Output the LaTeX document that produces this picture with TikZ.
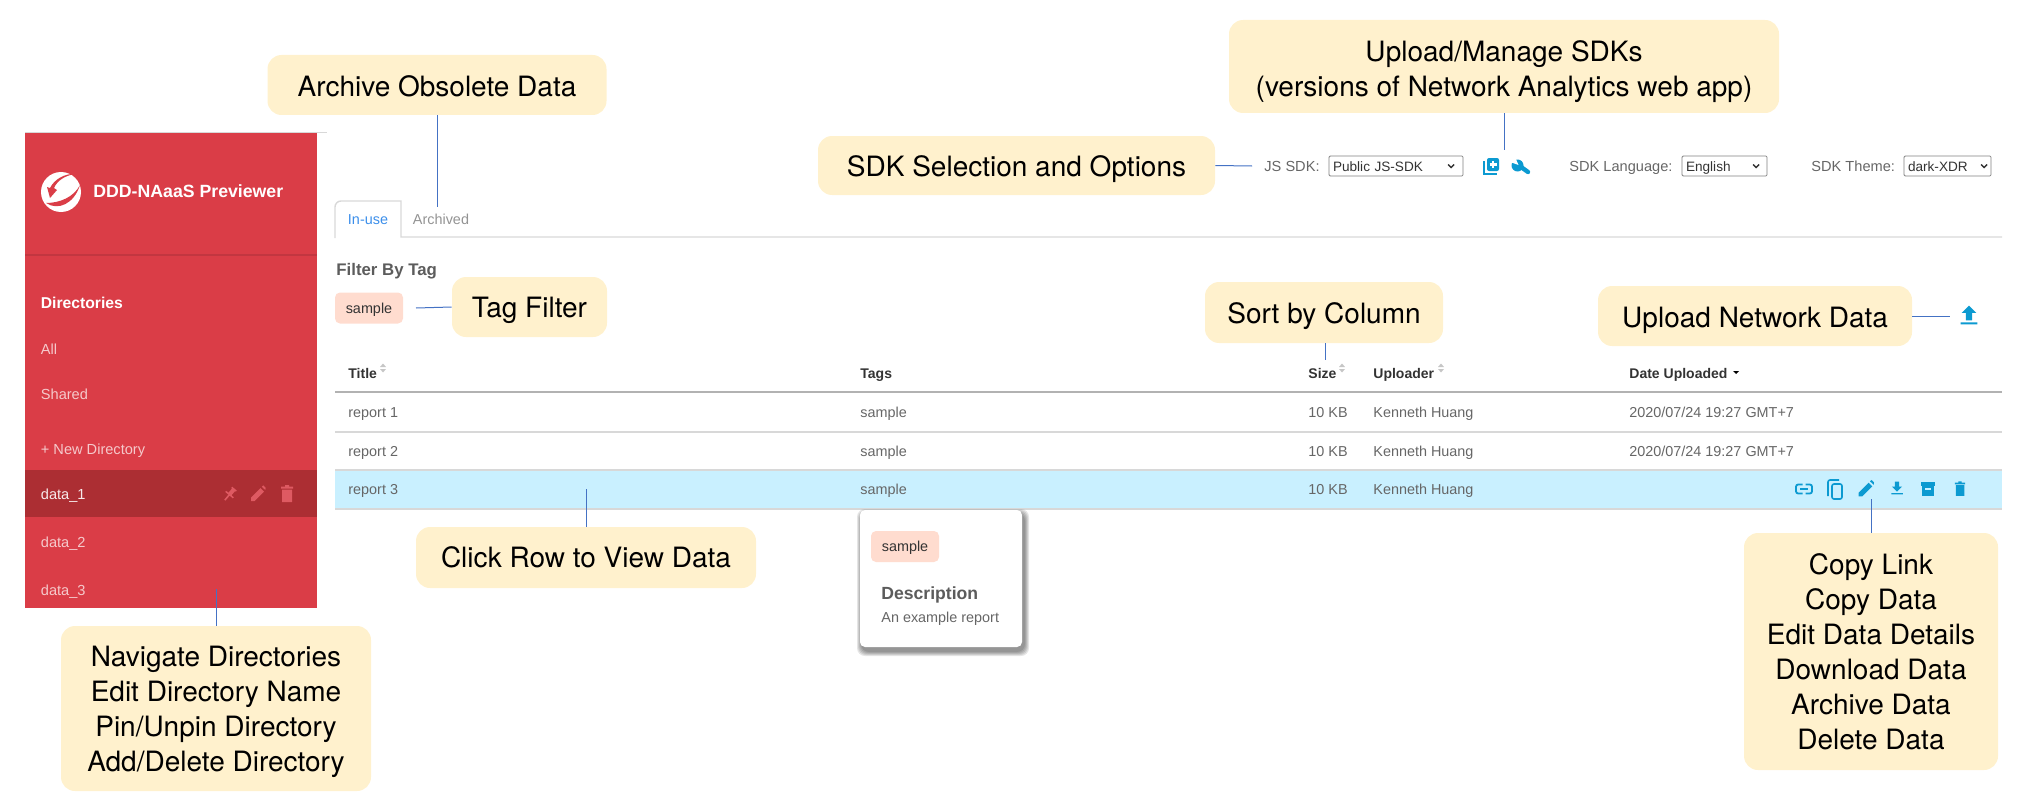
\documentclass[tikz,border=0pt]{standalone}
\usepackage{fontspec}
\setmainfont{Liberation Sans}
\newfontfamily\calloutfont{TeX Gyre Heros}
\usetikzlibrary{positioning}
\definecolor{SideRed}{HTML}{DA3D47}
\definecolor{SideDark}{HTML}{AC2E33}
\definecolor{SideLine}{HTML}{C23640}
\definecolor{SideIcon}{HTML}{DE5A62}
\definecolor{NoteYellow}{HTML}{FFF1CD}
\definecolor{ChipPink}{HTML}{FFDCCF}
\definecolor{RowBlue}{HTML}{C9F0FF}
\definecolor{IconBlue}{HTML}{0C9AD1}
\definecolor{LeadBlue}{HTML}{4472C4}
\definecolor{TabBlue}{HTML}{3B8EEA}
\definecolor{RuleGray}{HTML}{D8D8D8}
\definecolor{BodyGray}{HTML}{666666}
\definecolor{HeadGray}{HTML}{333333}
\newcommand{\notedrop}[1]{\rule{0pt}{#1}}
\tikzset{
  callout/.style={fill=NoteYellow,rounded corners=7pt,inner sep=0pt,align=center,
    font=\calloutfont\fontsize{14}{17.5}\selectfont,text=black},
  lowered/.style={execute at begin node={\notedrop{#1}}},
  lead/.style={draw=LeadBlue,line width=0.5pt},
  rowtext/.style={anchor=base west,inner sep=0pt,text=BodyGray,font=\fontsize{7.2}{9}\selectfont},
  headtext/.style={anchor=base west,inner sep=0pt,text=HeadGray,font=\bfseries\fontsize{7}{9}\selectfont},
  sidetext/.style={anchor=base west,inner sep=0pt,text=white!72!SideRed,font=\fontsize{7.3}{9}\selectfont},
  toplabel/.style={anchor=base west,inner sep=0pt,text=BodyGray,font=\fontsize{7.3}{9}\selectfont},
  selectbox/.style={draw=gray,line width=0.4pt,rounded corners=0.6pt,fill=white,minimum height=10pt,
    inner sep=0pt,inner xsep=2pt,text=HeadGray,font=\fontsize{6.8}{9}\selectfont,text height=5pt,text depth=0pt},
  chip/.style={fill=ChipPink,rounded corners=2.5pt,minimum width=34pt,minimum height=15.5pt,
    inner sep=0pt,text=HeadGray,font=\fontsize{7.2}{9}\selectfont,text height=5.2pt,text depth=0pt},
  pencilicon/.pic={\fill (-7,7) -- (-7,3.5) -- (2.5,-6) -- (6,-2.5) -- (-3.5,7) -- cycle
    (3.8,-7.3) -- (5.3,-8.6) -- (7.6,-6.3) -- (7.3,-4) -- cycle;},
  trashicon/.pic={\fill (-5,-4.5) rectangle (5,8) (-6,-7.5) rectangle (6,-5.5) (-2,-9) rectangle (2,-7);},
  pinicon/.pic={\fill[rotate=-40] (-3,-7) rectangle (3,-5.5) (-2,-5.5) rectangle (2,0) (-5,0) -- (5,0) -- (5,1.5) -- (-5,1.5) -- cycle
    (-0.8,1.5) rectangle (0.8,8);},
  linkicon/.pic={\draw[line width=0.9pt,rounded corners=1.1pt] (-1.5,-4.5) -- (-8,-4.5) -- (-8,4.5) -- (-1.5,4.5)
    (1.5,-4.5) -- (8,-4.5) -- (8,4.5) -- (1.5,4.5);
    \draw[line width=0.9pt] (-4,0) -- (4,0);},
  copyicon/.pic={\draw[line width=0.8pt,rounded corners=1pt] (-3,-7) rectangle (7,8);
    \draw[line width=0.8pt,rounded corners=1pt] (-7,5) -- (-7,-11) -- (4,-11);},
  downloadicon/.pic={\fill (-3,-9) rectangle (3,-2) (-7,-2) -- (7,-2) -- (0,5) -- cycle (-8,7) rectangle (8,9);},
  uploadicon/.pic={\fill (-3,5) rectangle (3,-2) (-7,-2) -- (7,-2) -- (0,-9) -- cycle (-8,7) rectangle (8,9);},
  archiveicon/.pic={\fill (-8,-8) rectangle (8,-4);
    \fill (-7,-3) rectangle (7,8);
    \fill[RowBlue] (-3,-1) rectangle (3,1);},
  sorticon/.pic={\fill (-3,-1) -- (3,-1) -- (0,-4.5) -- cycle (-3,1) -- (3,1) -- (0,4.5) -- cycle;},
  chevron/.pic={\draw[line width=0.7pt] (-3,-1.5) -- (0,1.5) -- (3,-1.5);}
}
\begin{document}
\begin{tikzpicture}[x=0.5pt,y=-0.5pt]
  \useasboundingbox (0,0) rectangle (2027,808);

  \draw[RuleGray] (25,132) -- (327,132);
  \node[fill=SideRed,minimum width=146pt,minimum height=237.5pt,inner sep=0pt] (sidebar) at (171,370.5) {};
  \fill[SideLine] (25,254) rectangle (317,256);
  \fill[SideDark] (25,470) rectangle (317,517);
  \fill[white] (61,192) circle (20);
  \fill[SideRed] (46,203) .. controls (58,211) and (74,204) .. (80,185) .. controls (74,197) and (60,203) .. (46,203) -- cycle;
  \fill[SideRed] (76,174) .. controls (65,175) and (57,181) .. (54,188) -- (57,190) -- (50,198) -- (47,187) -- (50,188) .. controls (54,180) and (64,173) .. (76,174) -- cycle;
  \node[anchor=base west,inner sep=0pt,text=white,font=\bfseries\fontsize{8.85}{11}\selectfont] (brand) at (93,197) {DDD-NAaaS Previewer};
  \node[anchor=base west,inner sep=0pt,text=white,font=\bfseries\fontsize{7.85}{10}\selectfont] (directories) at (40.5,308) {Directories};
  \foreach \y/\lab/\nm in {354/All/all,399/Shared/shared,454/+ New Directory/newdir,547/data\_2/datatwo,595/data\_3/datathree}
    \node[sidetext] (\nm) at (40.5,\y) {\lab};
  \node[sidetext,text=white!90!SideDark] (dataone) at (40.5,499) {data\_1};
  \path[fill=SideIcon] (230,494) pic {pinicon} (258,494) pic {pencilicon} (287,494) pic {trashicon};

  \draw[RuleGray,line width=0.7pt] (335,238) -- (335,207) to[rounded corners=3pt] (335,201) -- (401,201) -- (401,237) -- (2002,237);
  \node[anchor=base,inner sep=0pt,text=TabBlue,font=\fontsize{7.2}{9}\selectfont] (inuse) at (368,224) {In-use};
  \node[anchor=base,inner sep=0pt,text=gray!85,font=\fontsize{7.2}{9}\selectfont] (archived) at (441,224) {Archived};
  \node[anchor=base west,inner sep=0pt,text=BodyGray!90!black,font=\bfseries\fontsize{8.4}{10}\selectfont] (filterby) at (336,275) {Filter By Tag};
  \node[chip] (tagchip) at (369,308) {sample};

  \foreach \x/\lab/\nm in {348/Title/title,860/Tags/tags,1308/Size/size,1373/Uploader/uploader,1629/Date Uploaded/date}
    \node[headtext] (\nm) at (\x,378) {\lab};
  \path[fill=gray!45] (383,368) pic {sorticon} (1342,368) pic {sorticon} (1441,368) pic {sorticon};
  \fill[black] (1733,371) -- (1739,371) -- (1736,374) -- cycle;
  \draw[gray!60,line width=1pt] (335,392) -- (2002,392);
  \fill[RowBlue] (335,470) rectangle (2002,509);
  \foreach \y in {432,470,509}
    \draw[RuleGray,line width=0.6pt] (335,\y) -- (2002,\y);
  \foreach \i/\y in {1/417,2/456,3/494}{
    \node[rowtext] (report\i) at (348,\y) {report \i};
    \node[rowtext] (tag\i) at (860,\y) {sample};
    \node[rowtext] (size\i) at (1308,\y) {10 KB};
    \node[rowtext] (owner\i) at (1373,\y) {Kenneth Huang};
  }
  \foreach \i/\y in {1/417,2/456}
    \node[rowtext] (stamp\i) at (1629,\y) {2020/07/24 19:27 GMT+7};
  \path[fill=IconBlue] (1897,488) pic[scale=.72] {downloadicon} (1928,489) pic[scale=.85] {archiveicon} (1960,489) pic[scale=.85] {trashicon} (1866,489) pic[scale=1.05] {pencilicon};
  \path[draw=IconBlue] (1804,489) pic {linkicon} (1835,491) pic {copyicon};

  \foreach \s in {0,...,4}
    \fill[black,opacity=.1,rounded corners=4pt] (861-\s,513-\s) rectangle (1025+\s,652+\s);
  \node[fill=white,rounded corners=2.5pt,minimum width=81pt,minimum height=68.5pt,inner sep=0pt] (popup) at (941,578.5) {};
  \node[chip] (popchip) at (905,546.5) {sample};
  \node[anchor=base west,inner sep=0pt,text=BodyGray!90!black,font=\bfseries\fontsize{8.8}{10}\selectfont] (desc) at (881,599) {Description};
  \node[rowtext] (example) at (881,622) {An example report};

  \node[toplabel] (jslabel) at (1264,171) {JS SDK:};
  \node[selectbox,minimum width=67pt,text width=63pt] (jsbox) at (1396,166) {Public JS-SDK};
  \node[toplabel] (langlabel) at (1569,171) {SDK Language:};
  \node[selectbox,minimum width=42.5pt,text width=38.5pt] (langbox) at (1724.5,166) {English};
  \node[toplabel] (themelabel) at (1811,171) {SDK Theme:};
  \node[selectbox,minimum width=43.5pt,text width=39.5pt] (themebox) at (1947.5,166) {\mbox{dark-XDR}};
  \path[draw=HeadGray] (1451,166) pic {chevron} (1756,166) pic {chevron} (1984,166) pic {chevron};
  \fill[IconBlue,rounded corners=1pt] (1487,158) rectangle (1499,171);
  \draw[IconBlue,line width=1pt] (1484,161) -- (1484,174) -- (1497,174);
  \draw[white,line width=1.1pt] (1493,161) -- (1493,168) (1489.5,164.5) -- (1496.5,164.5);
  \draw[IconBlue,line width=2.2pt,line cap=round] (1521,167) -- (1528,172);
  \fill[IconBlue] (1517.5,165.5) circle (6);
  \fill[white] (1518.5,165) -- (1510,162) -- (1515,157) -- cycle;
  \path[fill=IconBlue] (1969,315) pic[scale=1.05] {uploadicon};

  \node[callout,lowered=11.5pt,minimum width=169.5pt,minimum height=30pt] (archivenote) at (437,85) {Archive Obsolete Data};
  \node[callout,minimum width=275pt,minimum height=46.5pt] (sdknote) at (1504,66.5) {\notedrop{15.5pt}Upload/Manage SDKs\\(versions of Network Analytics web app)};
  \node[callout,lowered=14pt,minimum width=198.5pt,minimum height=29.5pt] (selectnote) at (1016.5,165.5) {SDK Selection and Options};
  \node[callout,lowered=14pt,minimum width=77.5pt,minimum height=30pt] (tagnote) at (529.5,307) {Tag Filter};
  \node[callout,lowered=14pt,minimum width=119pt,minimum height=30.5pt] (sortnote) at (1324,312.5) {Sort by Column};
  \node[callout,lowered=15pt,minimum width=157pt,minimum height=30pt] (uploadnote) at (1755,316) {Upload Network Data};
  \node[callout,minimum width=170pt,minimum height=30.5pt] (rownote) at (586,557.5) {Click Row to View Data};
  \node[callout,minimum width=127pt,minimum height=118.5pt] (actionnote) at (1871,651.5) {Copy Link\\Copy Data\\Edit Data Details\\Download Data\\Archive Data\\Delete Data};
  \node[callout,minimum width=155pt,minimum height=82.5pt] (dirnote) at (216,708.5) {\notedrop{14pt}Navigate Directories\\Edit Directory Name\\Pin/Unpin Directory\\Add/Delete Directory};

  \coordinate (archiveend) at (437,207);
  \coordinate (sdkend) at (1504,150);
  \coordinate (selectend) at (1252,166);
  \coordinate (tagend) at (416,308);
  \coordinate (sortend) at (1325,360);
  \coordinate (uploadend) at (1950,316);
  \coordinate (rowend) at (586,489);
  \coordinate (actionend) at (1871,499);
  \coordinate (dirend) at (216,589);
  \draw[lead] (archivenote.south) -- (archiveend);
  \draw[lead] (sdknote.south) -- (sdkend);
  \draw[lead] (selectnote.east) -- (selectend);
  \draw[lead] (tagnote.west) -- (tagend);
  \draw[lead] (sortnote.south -| sortend) -- (sortend);
  \draw[lead] (uploadnote.east) -- (uploadend);
  \draw[lead] (rownote.north) -- (rowend);
  \draw[lead] (actionnote.north) -- (actionend);
  \draw[lead] (dirnote.north) -- (dirend);
\end{tikzpicture}
\end{document}
